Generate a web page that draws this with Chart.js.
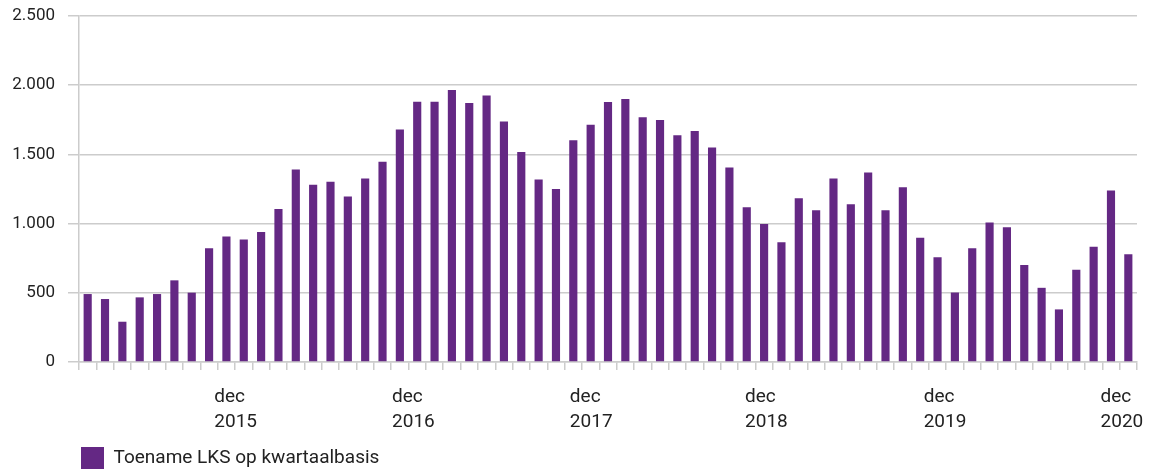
<!DOCTYPE html>
<html>
<head>
<meta charset="utf-8">
<script src="https://cdn.jsdelivr.net/npm/chart.js@4.4.0/dist/chart.umd.min.js"></script>
<style>
  html, body { margin: 0; padding: 0; background: #fff; }
  #wrap { width: 1151px; height: 472px; position: relative; }
</style>
</head>
<body>
<div id="wrap"><canvas id="lksChart"></canvas></div>
<script>
const seriesName = "Toename LKS op kwartaalbasis";
const values = [
  491, 455, 291, 467, 491, 590, 501, 821, 907, 886,
  940, 1106, 1391, 1281, 1303, 1195, 1326, 1446, 1680, 1881,
  1881, 1966, 1871, 1925, 1737, 1518, 1318, 1250, 1602, 1715,
  1879, 1901, 1768, 1749, 1638, 1669, 1549, 1405, 1118, 998,
  866, 1183, 1096, 1326, 1139, 1369, 1096, 1262, 897, 756,
  502, 821, 1008, 974, 701, 536, 380, 667, 833, 1240,
  778
];
const categories = values.map((v, i) => String(i + 1));
// the "dec" labels sit at these category positions in the original
const tickPos = [7.8, 18.05, 28.3, 38.4, 48.7, 58.9];
const tickLabels = [
  ["dec", "2015"], ["dec", "2016"], ["dec", "2017"],
  ["dec", "2018"], ["dec", "2019"], ["dec", "2020"]
];

const purple = "#642884";
const gridGray = "#cccccc";
const textColor = "#222222";

const fmt = (v) => String(v).replace(/\B(?=(\d{3})+(?!\d))/g, ".");

const ctx = document.getElementById("lksChart").getContext("2d");
const myChart = new Chart(ctx, {
  type: "bar",
  data: {
    labels: categories,
    datasets: [
      {
        label: seriesName,
        data: values,
        backgroundColor: purple,
        borderWidth: 0,
        categoryPercentage: 1,
        barPercentage: 0.47,
      },
    ],
  },
  options: {
    responsive: true,
    maintainAspectRatio: false,
    animation: false,
    layout: {
      padding: { left: 0, right: 14, top: 16, bottom: -7 },
    },
    plugins: {
      tooltip: { enabled: false },
      legend: {
        display: true,
        position: "bottom",
        align: "start",
        fullSize: false,
        labels: {
          boxWidth: 23,
          boxHeight: 22,
          padding: 2,
          color: textColor,
          font: { family: "Roboto", size: 19 },
        },
      },
    },
    scales: {
      x: {
        type: "category",
        position: "bottom",
        offset: true,
        grid: {
          offset: true,
          drawOnChartArea: false,
          drawTicks: true,
          tickLength: 8,
          color: gridGray,
          lineWidth: 1.5,
        },
        border: { display: true, color: gridGray, width: 1.5 },
        ticks: { display: false },
        afterFit: (axis) => {
          axis.paddingLeft = 0;
          axis.paddingRight = 0;
        },
      },
      xLab: {
        type: "linear",
        position: "bottom",
        offset: false,
        bounds: "data",
        min: 0,
        max: values.length,
        grid: { display: false, offset: false, drawTicks: false, tickLength: 0 },
        border: { display: false },
        afterBuildTicks: (axis) => {
          axis.ticks = tickPos.map((p) => ({ value: p }));
        },
        ticks: {
          autoSkip: false,
          maxRotation: 0,
          align: "start",
          padding: 14,
          color: textColor,
          font: { family: "Roboto", size: 19, lineHeight: 1.35 },
          callback: (v, i) => tickLabels[i],
        },
        afterFit: (axis) => {
          axis.height = 75;
          axis.paddingLeft = 0;
          axis.paddingRight = 0;
        },
      },
      y: {
        min: 0,
        max: 2500,
        ticks: {
          stepSize: 500,
          padding: 13,
          color: textColor,
          font: { family: "Roboto", size: 17 },
          callback: (v) => fmt(v),
        },
        grid: {
          color: gridGray,
          lineWidth: 1.5,
          drawTicks: true,
          tickLength: 11,
        },
        border: { display: true, color: gridGray, width: 1.5 },
        afterFit: (axis) => {
          axis.width = 79;
          axis.paddingTop = 0;
          axis.paddingBottom = 0;
        },
      },
    },
  },
});
</script>
</body>
</html>
